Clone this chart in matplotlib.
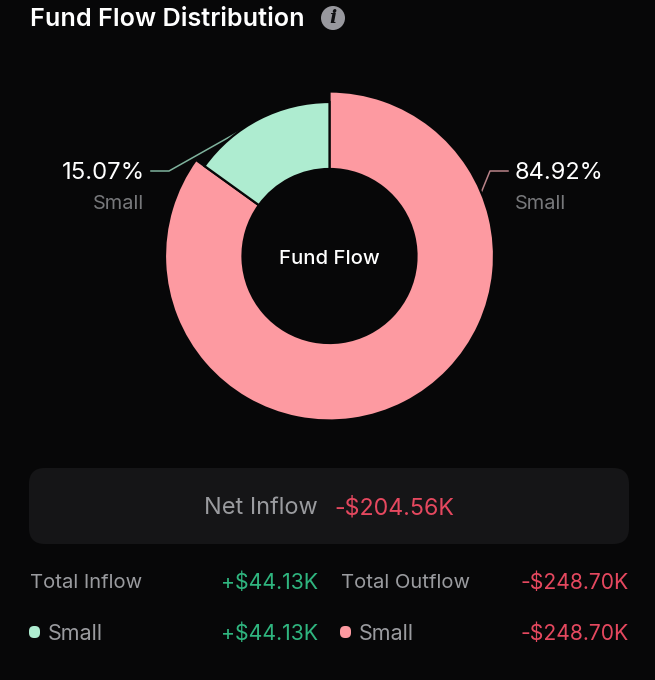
import matplotlib
matplotlib.use('Agg')
import matplotlib.pyplot as plt
from matplotlib.patches import Circle, FancyBboxPatch

# values
shares = [84.92, 15.07]
share_labels = ['84.92%', '15.07%']
share_names = ['Small', 'Small']
net_inflow = '-$204.56K'
total_inflow = '+$44.13K'
total_outflow = '-$248.70K'
small_inflow = '+$44.13K'
small_outflow = '-$248.70K'

BG = '#070708'
PINK = '#fd9aa1'
MINT = '#aeecd0'
GREY = '#9a9b9f'
RED = '#e5485f'
GREEN = '#2fb57f'

plt.rcParams['font.family'] = ['Inter', 'DejaVu Sans']

fig = plt.figure(figsize=(6.55, 6.8), dpi=100, facecolor=BG)
ax = fig.add_axes([0, 0, 1, 1])
ax.set_xlim(0, 655)
ax.set_ylim(680, 0)
ax.axis('off')

# second axes with y going up for the donut, same pixel scale
pie_ax = fig.add_axes([0, 0, 1, 1], facecolor='none')

def px(size):
    return size * 0.72

wedges, _ = pie_ax.pie(shares, colors=[PINK, MINT], startangle=90, counterclock=False,
                       center=(329.5, 680 - 256), radius=164.5, frame=True,
                       wedgeprops={'width': 77.5, 'edgecolor': BG, 'linewidth': 1.6})
pie_ax.set_xlim(0, 655)
pie_ax.set_ylim(0, 680)
pie_ax.axis('off')
wedges[1].set_radius(154)
wedges[1].set_width(67)

# title and info icon
ax.text(30, 20, 'Fund Flow Distribution', color='white', fontsize=px(25.2), fontweight='semibold', va='center', ha='left')
ax.add_patch(Circle((333, 18), 12, color='#98989e', lw=0))
ax.text(333, 18, 'i', color='#101012', fontsize=px(19), fontweight='bold', fontstyle='italic',
        family='DejaVu Serif', va='center', ha='center')

# leader lines
ax.plot([151, 169, 240], [171, 171, 131], color='#7fb39d', lw=1.1)
ax.plot([508, 490, 481], [171, 171, 193], color='#b98389', lw=1.1)

# callouts
ax.text(145, 173, share_labels[1], color='white', fontsize=px(24), va='center', ha='right')
ax.text(144, 204, share_names[1], color='#77787b', fontsize=px(20), va='center', ha='right')
ax.text(515, 173, share_labels[0], color='white', fontsize=px(23.6), va='center', ha='left')
ax.text(515, 204, share_names[0], color='#77787b', fontsize=px(20), va='center', ha='left')
ax.text(329.5, 259, 'Fund Flow', color='white', fontsize=px(20.3), fontweight='medium', va='center', ha='center')

# net inflow box
ax.add_patch(FancyBboxPatch((29, 468), 600, 76, boxstyle='round,pad=0,rounding_size=16',
                            fc='#151517', ec='none'))
ax.text(318, 508, 'Net Inflow', color=GREY, fontsize=px(23.5), va='center', ha='right')
ax.text(334, 508, net_inflow, color=RED, fontsize=px(23.2), va='center', ha='left')

# totals table
ax.text(30, 583, 'Total Inflow', color=GREY, fontsize=px(20.2), va='center', ha='left')
ax.text(318, 583, total_inflow, color=GREEN, fontsize=px(21.3), va='center', ha='right')
ax.text(341, 583, 'Total Outflow', color=GREY, fontsize=px(20.2), va='center', ha='left')
ax.text(629, 583, total_outflow, color=RED, fontsize=px(21.1), va='center', ha='right')

ax.add_patch(FancyBboxPatch((29, 626), 11, 12, boxstyle='round,pad=0,rounding_size=5', fc=MINT, ec='none'))
ax.text(48, 634, share_names[1], color=GREY, fontsize=px(21.5), va='center', ha='left')
ax.text(318, 634, small_inflow, color=GREEN, fontsize=px(21.3), va='center', ha='right')
ax.add_patch(FancyBboxPatch((340, 626), 11, 12, boxstyle='round,pad=0,rounding_size=5', fc=PINK, ec='none'))
ax.text(359, 634, share_names[0], color=GREY, fontsize=px(21.5), va='center', ha='left')
ax.text(629, 634, small_outflow, color=RED, fontsize=px(21.1), va='center', ha='right')

fig.savefig('out.png', dpi=100, facecolor=BG)
